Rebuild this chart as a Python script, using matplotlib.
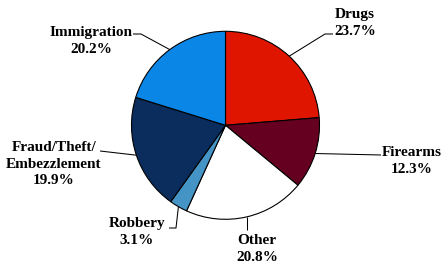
import matplotlib
matplotlib.use("Agg")
import matplotlib.pyplot as plt
import numpy as np

categories = ["Drugs", "Firearms", "Other", "Robbery", "Fraud/Theft/\nEmbezzlement", "Immigration"]
values = [23.7, 12.3, 20.8, 3.1, 19.9, 20.2]
colors = ["#E01500", "#650020", "#FFFFFF", "#4494C6", "#0A2D5E", "#0A86E6"]

W, H = 443, 269
fig = plt.figure(figsize=(W / 100, H / 100), dpi=100)
ax = fig.add_axes([0, 0, 1, 1])
cx, cy, r = 225.5, H - 125.3, 94
wedges, _ = ax.pie(values, colors=colors, startangle=90, counterclock=False,
                   center=(cx, cy), radius=r,
                   wedgeprops=dict(edgecolor="black", linewidth=0.8))
ax.set_xlim(0, W)
ax.set_ylim(0, H)
ax.set_aspect("equal")
ax.axis("off")

# label layout (image pixel coords: x, y from top)
text_pos = [(355, 23), (412, 161), (257, 249), (137, 232), (54, 164), (91, 41)]
elbows = [
    [(325, 34), (333, 34)],
    [(381, 155)],
    [None],
    [(176, 228), (169, 228)],
    [(100, 151)],
    [(141, 34), (133, 34)],
]

for w, name, v, (tx, ty), path in zip(wedges, categories, values, text_pos, elbows):
    mid = np.deg2rad((w.theta1 + w.theta2) / 2)
    ex, ey = cx + r * np.cos(mid), cy + r * np.sin(mid)
    xs, ys = [ex], [ey]
    for p in path:
        if p is None:
            xs.append(ex)
            ys.append(H - 230)
        else:
            xs.append(p[0])
            ys.append(H - p[1])
    ax.plot(xs, ys, color="black", lw=0.75, solid_capstyle="butt")
    ax.text(tx, H - ty, f"{name}\n{v:.1f}%", ha="center", va="center",
            family="Liberation Serif", fontweight="bold", fontsize=11.0,
            linespacing=1.35, color="black")

fig.savefig("out.png", dpi=100)
